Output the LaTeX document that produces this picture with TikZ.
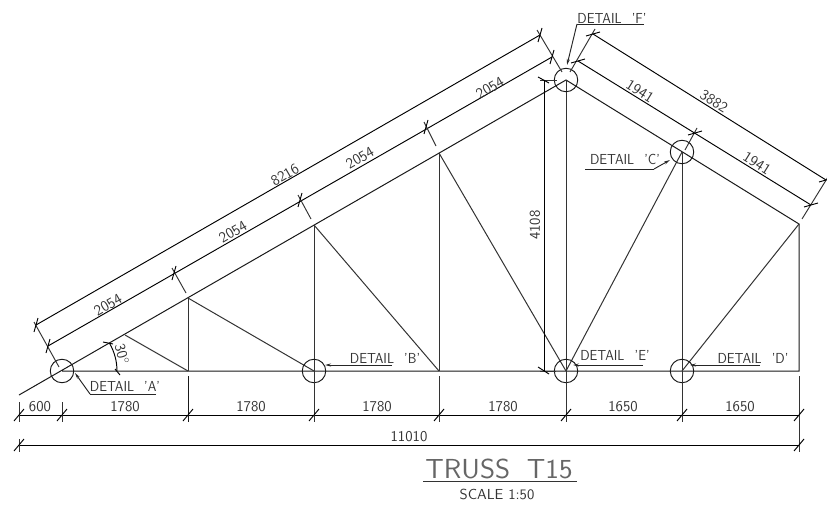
\documentclass[tikz,border=0pt]{standalone}
\renewcommand{\familydefault}{\sfdefault}
\newcommand{\tk}[1]{\draw[dimln] ($(#1)+(-5,6)$)--($(#1)+(5,-6)$);}
\newcommand{\dtext}[1]{DETAIL\hspace{11pt}'#1'}
\usetikzlibrary{calc,arrows.meta}
\begin{document}
\begin{tikzpicture}[
x=1pt,y=-1pt,
chord/.style = {draw,line width=1pt,black!90},
memb/.style = {draw,line width=1pt,black!80},
dimln/.style = {draw,line width=0.95pt,black},
extn/.style = {draw,line width=0.95pt,black!80},
undln/.style = {draw,line width=0.95pt,black!85},
dtl/.style = {draw,circle,line width=0.95pt,black!90,minimum size=23.5pt,inner sep=0pt},
ldr/.style = {undln,-{Stealth[length=6pt,width=3pt]}},
txt/.style = {font=\fontsize{15}{16}\selectfont,text=black!80,inner sep=0pt},
dtxt/.style = {font=\fontsize{14.5}{15}\selectfont,text=black!80,inner sep=0pt,xscale=0.92},
ttl/.style = {font=\fontsize{27.5}{30}\selectfont,text=black!60,inner sep=0pt,xscale=1.05}
]
  \useasboundingbox (0,0) rectangle (827,505);
  % joints
  \coordinate (tail) at (19,395);
  \coordinate (a) at (62,371);
  \coordinate (p0) at (125,335);
  \coordinate (l1) at (188,371);
  \coordinate (t1) at (188,298);
  \coordinate (b) at (314,371);
  \coordinate (t2) at (314,225);
  \coordinate (l3) at (439,371);
  \coordinate (t3) at (439,153);
  \coordinate (e) at (566,371);
  \coordinate (f) at (566,80);
  \coordinate (d) at (682,371);
  \coordinate (c) at (682,152);
  \coordinate (r) at (799,371);
  \coordinate (t4) at (799,224);

  \path[chord] (tail)--(f)--(t4)--(r)--(a);
  \path[memb] (p0)--(l1);
  \path[memb] (t1)--(l1);
  \path[memb] (t1)--(b);
  \path[memb] (t2)--(b);
  \path[memb] (t2)--(l3);
  \path[memb] (t3)--(l3);
  \path[memb] (t3)--(e);
  \path[memb] (f)--(e);
  \path[memb] (c)--(e);
  \path[memb] (c)--(d);
  \path[memb] (t4)--(d);

  \node[dtl] (ca) at (a) {};
  \node[dtl] (cb) at (b) {};
  \node[dtl] (cc) at (c) {};
  \node[dtl] (cd) at (d) {};
  \node[dtl] (ce) at (e) {};
  \node[dtl] (cf) at (f) {};

  % sloping dimensions on the left
  \coordinate (s0) at (48,346);
  \coordinate (s1) at (174,273);
  \coordinate (s2) at (300,200);
  \coordinate (s3) at (426,127);
  \coordinate (s4) at (552,57);
  \coordinate (o0) at (36,325);
  \coordinate (o4) at (540,35);
  \path[dimln] (s0)--(s4);
  \path[dimln] (o0)--(o4);
  \path[extn] (34,322)--(59,367);
  \path[extn] (172,268)--(186,293);
  \path[extn] (298,195)--(311,219);
  \path[extn] (424,122)--(436,146);
  \path[extn] (537,30)--(562,72);
  \foreach \q in {s0,s1,s2,s3,s4,o0,o4} {\draw[dimln] ($(\q)+(-2,7)$)--($(\q)+(2,-7)$);}
  \node[txt,rotate=30] (n1) at (108,305) {2054};
  \node[txt,rotate=30] (n2) at (233,232) {2054};
  \node[txt,rotate=30] (n3) at (360,158) {2054};
  \node[txt,rotate=30] (n4) at (490,88) {2054};
  \node[txt,rotate=30] (n5) at (285,175) {8216};

  % sloping dimensions on the right
  \coordinate (u0) at (578,61);
  \coordinate (u1) at (695,133);
  \coordinate (u2) at (811,205);
  \coordinate (v0) at (593,34);
  \coordinate (v1) at (826,180);
  \path[dimln] (u0)--(u2);
  \path[dimln] (v0)--(v1);
  \path[extn] (570,72)--(595,29);
  \path[extn] (685,150)--(697,128);
  \path[extn] (802,219)--(828,177);
  \foreach \q in {u0,u1,u2,v0,v1} {\draw[dimln] ($(\q)+(-7,2)$)--($(\q)+(7,-2)$);}
  \node[txt,rotate=-32] (n6) at (640,91) {1941};
  \node[txt,rotate=-32] (n7) at (757,163) {1941};
  \node[txt,rotate=-32] (n8) at (714,101) {3882};

  % height
  \coordinate (h0) at (544,80);
  \coordinate (h1) at (544,371);
  \path[dimln] (h0)--(h1);
  \path[extn] (540,80)--(557,80);
  \path[extn] (540,371)--(556,371);
  \draw[dimln] (538,77)--(549,83);
  \draw[dimln] (538,367)--(549,374);
  \node[txt,rotate=90] (n9) at (535,225) {4108};

  % roof angle
  \draw[dimln] (117,371) arc (0:-30:55);
  \draw[dimln] (103,342)--(113,344);
  \draw[dimln] (115,369)--(120,375);
  \node[txt,rotate=-75] (n10) at (122,354) {30$^{\circ}$};

  % base dimensions
  \coordinate (d0) at (19,415);
  \coordinate (d1) at (62,415);
  \coordinate (d2) at (188,415);
  \coordinate (d3) at (314,415);
  \coordinate (d4) at (439,415);
  \coordinate (d5) at (566,415);
  \coordinate (d6) at (682,415);
  \coordinate (d7) at (799,415);
  \coordinate (g0) at (19,445);
  \coordinate (g1) at (799,445);
  \path[dimln] (d0)--(d7);
  \path[dimln] (g0)--(g1);
  \path[extn] (19,402)--(19,422);
  \path[extn] (62,402)--(62,422);
  \path[chord] (188,376)--(188,422);
  \path[extn] (314,371)--(314,422);
  \path[extn] (439,376)--(439,422);
  \path[extn] (566,371)--(566,422);
  \path[extn] (682,371)--(682,422);
  \path[extn] (799,376)--(799,452);
  \path[extn] (19,439)--(19,452);
  \foreach \q in {d0,d1,d2,d3,d4,d5,d6,d7,g0,g1} {\tk{\q}}
  \node[txt] (m1) at (40,407) {600};
  \node[txt] (m2) at (125,407) {1780};
  \node[txt] (m3) at (251,407) {1780};
  \node[txt] (m4) at (377,407) {1780};
  \node[txt] (m5) at (503,407) {1780};
  \node[txt] (m6) at (623,407) {1650};
  \node[txt] (m7) at (740,407) {1650};
  \node[txt] (m8) at (409,437) {11010};

  % detail labels
  \node[dtxt] (la) at (125,386) {\dtext{A}};
  \node[dtxt] (lb) at (385,358) {\dtext{B}};
  \node[dtxt] (lc) at (625,159) {\dtext{C}};
  \node[dtxt] (ld) at (753,358) {\dtext{D}};
  \node[dtxt] (le) at (615,355) {\dtext{E}};
  \node[dtxt] (lf) at (612,18) {\dtext{F}};
  \coordinate (ua) at (90,394);
  \coordinate (uc) at (585,169);
  \coordinate (uc2) at (654,169);
  \coordinate (uf) at (577,24);
  \path[undln] (156,394)--(ua);
  \path[ldr] (ua)--(75,373);
  \path[undln] (uc)--(uc2);
  \path[ldr] (uc2)--(670,160);
  \path[undln] (644,24)--(uf);
  \path[ldr] (uf)--(567,65);
  \path[ldr] (392,365)--(325,365);
  \path[ldr] (643,365)--(573,365);
  \path[ldr] (760,365)--(690,365);

  % title
  \node[ttl] (title) at (499,469) {TRUSS\hspace{16pt}T15};
  \draw[extn] (423,481)--(577,481);
  \node[dtxt,xscale=1.12] (scale) at (497,494) {SCALE 1:50};
\end{tikzpicture}
\end{document}
